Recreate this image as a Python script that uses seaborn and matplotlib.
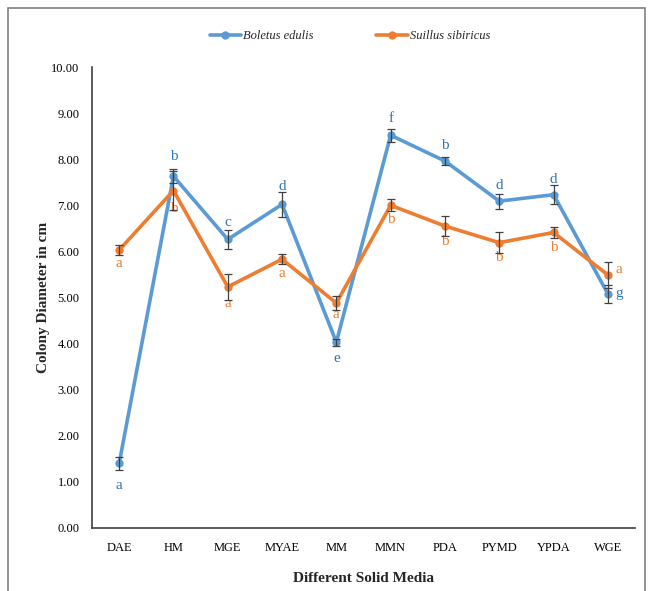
import numpy as np
import pandas as pd
import seaborn as sns
import matplotlib
matplotlib.use("Agg")
import matplotlib.pyplot as plt
from matplotlib.patches import Rectangle

media = ["DAE", "HM", "MGE", "MYAE", "MM", "MMN", "PDA", "PYMD", "YPDA", "WGE"]
boletus = [1.40, 7.63, 6.26, 7.02, 4.03, 8.52, 7.96, 7.09, 7.23, 5.08]
boletus_err = [0.15, 0.15, 0.20, 0.27, 0.08, 0.14, 0.08, 0.16, 0.20, 0.20]
suillus = [6.03, 7.32, 5.23, 5.83, 4.88, 7.00, 6.55, 6.19, 6.41, 5.49]
suillus_err = [0.11, 0.42, 0.29, 0.11, 0.16, 0.13, 0.22, 0.22, 0.11, 0.28]
boletus_letters = ["a", "b", "c", "d", "e", "f", "b", "d", "d", "g"]
suillus_letters = ["a", "b", "a", "a", "a", "b", "b", "b", "b", "a"]
series = ["Boletus edulis", "Suillus sibiricus"]
colors = ["#5B9BD5", "#ED7D31"]

df = pd.DataFrame({
    "Media": media * 2,
    "Diameter": boletus + suillus,
    "Species": [series[0]] * len(media) + [series[1]] * len(media),
})

sns.set_style("white")
plt.rcParams["font.family"] = ["Liberation Serif", "DejaVu Serif"]

fig = plt.figure(figsize=(6.52, 5.91), dpi=100)
ax = fig.add_axes([92 / 652, 63 / 591, 543 / 652, 461 / 591])

sns.lineplot(data=df, x="Media", y="Diameter", hue="Species", palette=colors,
             marker="o", markersize=6, markeredgewidth=0, linewidth=2.6,
             sort=False, ax=ax, legend=True)

x = np.arange(len(media))
for vals, errs in [(boletus, boletus_err), (suillus, suillus_err)]:
    ax.errorbar(x, vals, yerr=errs, fmt="none", ecolor="#404040",
                elinewidth=0.9, capsize=3, capthick=0.9, zorder=5)

# significance letters
b_off = [(0, -16), (0, 14), (0, 12), (0, 13), (0, -12), (0, 12), (0, 11), (0, 11), (0, 11), (8, 0)]
s_off = [(0, -10), (0, -13), (0, -12), (0, -10), (0, -8), (0, -10), (0, -11), (0, -11), (0, -11), (8, 4)]
for i in range(len(media)):
    ax.annotate(boletus_letters[i], (x[i], boletus[i]), xytext=b_off[i],
                textcoords="offset points", ha="center", va="center",
                fontsize=11, color="#2E75B6")
    ax.annotate(suillus_letters[i], (x[i], suillus[i]), xytext=s_off[i],
                textcoords="offset points", ha="center", va="center",
                fontsize=11, color="#ED7D31")

ax.set_xlim(-0.5, len(media) - 0.5)
ax.set_ylim(0, 10)
ax.set_yticks(np.arange(0, 10.01, 1))
ax.set_yticklabels([f"{v:.2f}" for v in np.arange(0, 10.01, 1)])
ax.tick_params(axis="both", length=0, labelsize=9, colors="#000000")
ax.tick_params(axis="y", pad=9)
ax.tick_params(axis="x", pad=10)
for s in ["top", "right"]:
    ax.spines[s].set_visible(False)
for s in ["left", "bottom"]:
    ax.spines[s].set_color("#404040")
    ax.spines[s].set_linewidth(1.2)

ax.set_xlabel("Different Solid Media", fontsize=11, fontweight="bold", labelpad=13)
ax.set_ylabel("Colony Diameter in cm", fontsize=11, fontweight="bold", labelpad=1)

handles, labels = ax.get_legend_handles_labels()
ax.legend_.remove()
fig.legend(handles, labels, loc="center", bbox_to_anchor=(0.537, 0.939), ncol=2,
           frameon=False, prop={"family": "Liberation Serif", "style": "italic", "size": 9},
           columnspacing=5, handlelength=2.5, handletextpad=0.2)

fig.patches.append(Rectangle((8 / 652, -0.01), 637 / 652, 1 - 8 / 591 + 0.01,
                             transform=fig.transFigure, fill=False,
                             edgecolor="#808080", linewidth=1.2))

fig.savefig("out.png", dpi=100)
